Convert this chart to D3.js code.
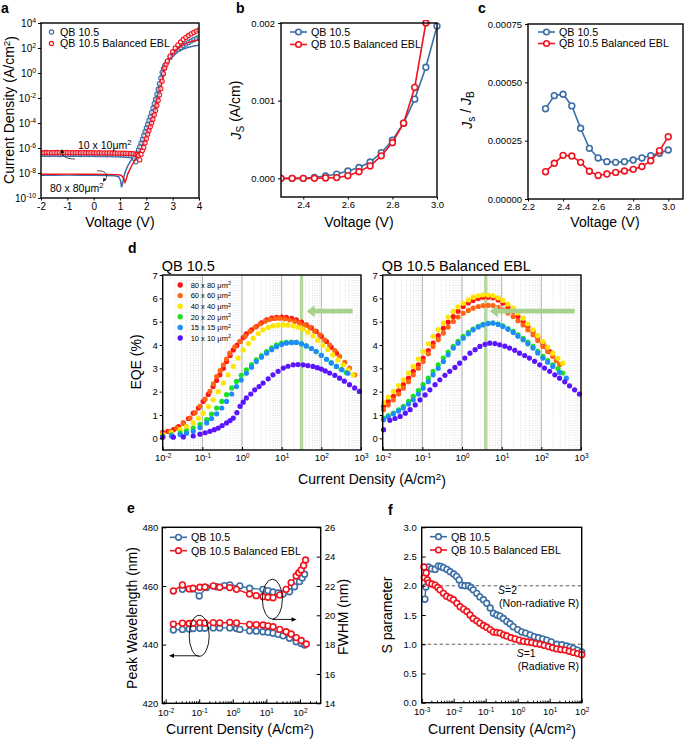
<!DOCTYPE html>
<html><head><meta charset="utf-8">
<script src="https://cdn.jsdelivr.net/npm/d3@7"></script>
<style>body{margin:0;background:#fff}svg{display:block}</style>
</head><body><svg id="c" width="685" height="740"></svg>
<script>
// ---------------- DATA ----------------
// Panel a: [voltage, log10 current density]
const aBlueMarkers = [[-2,-6.5],[-1.9,-6.51],[-1.8,-6.5],[-1.7,-6.52],[-1.6,-6.51],[-1.5,-6.5],[-1.4,-6.51],[-1.3,-6.52],[-1.2,-6.51],[-1.1,-6.5],[-1,-6.51],[-0.9,-6.52],[-0.8,-6.51],[-0.7,-6.5],[-0.6,-6.51],[-0.5,-6.52],[-0.4,-6.51],[-0.3,-6.51],[-0.2,-6.52],[-0.1,-6.51],[0,-6.52],[0.1,-6.53],[0.2,-6.52],[0.3,-6.53],[0.4,-6.53],[0.5,-6.54],[0.6,-6.53],[0.7,-6.54],[0.8,-6.55],[0.9,-6.55],[1,-6.56],[1.1,-6.57],[1.2,-6.58],[1.3,-6.6],[1.4,-6.63],[1.5,-6.7],[1.55,-6.85],[1.6,-7.1],[1.65,-6.5],[1.7,-6.15],[1.75,-5.9],[1.8,-5.6],[1.85,-5.3],[1.9,-5],[1.95,-4.7],[2,-4.4],[2.05,-4.1],[2.1,-3.8],[2.15,-3.5],[2.2,-3.15],[2.25,-2.8],[2.3,-2.45],[2.35,-2.1],[2.4,-1.7],[2.45,-1.3],[2.5,-0.85],[2.55,-0.4],[2.6,0.05],[2.65,0.35],[2.7,0.6],[2.8,0.95],[2.9,1.25],[3,1.5],[3.1,1.72],[3.2,1.9],[3.3,2.05],[3.4,2.2],[3.5,2.33],[3.6,2.45],[3.7,2.56],[3.8,2.66],[3.9,2.76],[4,2.85]];
const aRedMarkers = [[-2,-6.37],[-1.9,-6.38],[-1.8,-6.36],[-1.7,-6.37],[-1.6,-6.38],[-1.5,-6.37],[-1.4,-6.36],[-1.3,-6.37],[-1.2,-6.38],[-1.1,-6.37],[-1,-6.36],[-0.9,-6.37],[-0.8,-6.38],[-0.7,-6.37],[-0.6,-6.37],[-0.5,-6.38],[-0.4,-6.37],[-0.3,-6.38],[-0.2,-6.38],[-0.1,-6.37],[0,-6.38],[0.1,-6.39],[0.2,-6.38],[0.3,-6.39],[0.4,-6.39],[0.5,-6.4],[0.6,-6.39],[0.7,-6.4],[0.8,-6.4],[0.9,-6.41],[1,-6.41],[1.1,-6.42],[1.2,-6.42],[1.3,-6.43],[1.4,-6.44],[1.5,-6.45],[1.6,-6.48],[1.65,-6.52],[1.7,-6.6],[1.75,-6.95],[1.8,-6.5],[1.85,-6.2],[1.9,-5.95],[1.95,-5.6],[2,-5.25],[2.05,-4.9],[2.1,-4.6],[2.15,-4.3],[2.2,-4],[2.25,-3.7],[2.3,-3.35],[2.35,-3],[2.4,-2.6],[2.45,-2.2],[2.5,-1.75],[2.55,-1.25],[2.6,-0.65],[2.65,-0.05],[2.7,0.4],[2.75,0.7],[2.8,0.95],[2.9,1.35],[3,1.7],[3.1,2],[3.2,2.25],[3.3,2.48],[3.4,2.68],[3.5,2.85],[3.6,3],[3.7,3.13],[3.8,3.25],[3.9,3.35],[4,3.45]];
const aBlueLine = [[-2,-8.17],[-1.5,-8.18],[-1,-8.17],[-0.5,-8.18],[0,-8.19],[0.5,-8.2],[0.8,-8.22],[0.95,-8.3],[1.02,-8.6],[1.06,-9.15],[1.1,-8.8],[1.15,-8.3],[1.2,-7.9],[1.3,-7.4],[1.4,-7.05],[1.5,-6.75],[1.6,-6.45],[1.7,-6.1],[1.8,-5.55],[1.9,-4.95],[2,-4.35],[2.1,-3.75],[2.2,-3.1],[2.3,-2.4],[2.4,-1.65],[2.5,-0.8],[2.6,0.1],[2.7,0.55],[2.8,0.9],[3,1.35],[3.2,1.7],[3.4,1.92],[3.6,2.06],[3.8,2.16],[4,2.22]];
const aRedLine = [[-2,-8.09],[-1.5,-8.1],[-1,-8.09],[-0.5,-8.1],[0,-8.1],[0.5,-8.11],[0.9,-8.13],[1.05,-8.2],[1.12,-8.35],[1.19,-8.75],[1.25,-8.4],[1.3,-8.05],[1.4,-7.6],[1.5,-7.2],[1.6,-6.85],[1.7,-6.5],[1.8,-6.1],[1.9,-5.7],[2,-5.2],[2.1,-4.6],[2.2,-4],[2.3,-3.35],[2.4,-2.6],[2.5,-1.75],[2.6,-0.7],[2.7,0.3],[2.8,0.85],[3,1.5],[3.2,1.95],[3.4,2.25],[3.6,2.45],[3.8,2.58],[4,2.65]];
const aXTicks = [-2,-1,0,1,2,3,4];
const aYTicks = [1e-10,1e-8,1e-6,1e-4,1e-2,1,1e2,1e4];

// Panel b: surface current density vs voltage
const bVolt = [2.3,2.35,2.4,2.45,2.5,2.55,2.6,2.65,2.7,2.75,2.8,2.85,2.9,2.95,3.0];
const bBlue = [0,0,0,0.000013,0.00003,0.000055,0.000094,0.00014,0.00021,0.00033,0.00049,0.00071,0.00102,0.00143,0.00196];
const bRed  = [0,0,0,0,0.000005,0.00001,0.000034,0.000085,0.00016,0.00029,0.00046,0.00071,0.00117,0.002];
const bXTicks = [2.4,2.6,2.8,3.0];
const bYTicks = [0,0.001,0.002];

// Panel c: Js/JB vs voltage
const cVolt = [2.3,2.35,2.4,2.45,2.5,2.55,2.6,2.65,2.7,2.75,2.8,2.85,2.9,2.95,3.0];
const cBlue = [0.000387,0.000443,0.000449,0.000399,0.000303,0.000217,0.000176,0.00016,0.000157,0.00016,0.000167,0.000176,0.000186,0.000196,0.00021];
const cRed  = [0.000117,0.000153,0.000187,0.000184,0.000157,0.000119,0.000101,0.000107,0.000114,0.00012,0.000127,0.000139,0.000164,0.000207,0.000267];
const cXTicks = [2.2,2.4,2.6,2.8,3.0];
const cYTicks = [0,0.00025,0.0005,0.00075];

// Panel d: [log10 J, EQE %]
const dSizes = ['80 x 80','60 x 60','40 x 40','20 x 20','15 x 15','10 x 10'];
const dColors = ['#ff1414','#ff6414','#ffe600','#1ee01e','#1e8cff','#5a14ff'];
const dL80 = [[-2,0.26],[-1.87,0.3],[-1.73,0.37],[-1.6,0.5],[-1.48,0.66],[-1.35,0.85],[-1.23,1.08],[-1.1,1.3],[-0.98,1.58],[-0.85,1.88],[-0.73,2.22],[-0.64,2.48],[-0.56,2.72],[-0.47,3.0],[-0.39,3.29],[-0.3,3.55],[-0.22,3.79],[-0.13,3.98],[-0.05,4.15],[0.03,4.32],[0.11,4.48],[0.24,4.65],[0.36,4.79],[0.49,4.95],[0.62,5.08],[0.75,5.15],[0.87,5.19],[1.0,5.2],[1.12,5.19],[1.25,5.14],[1.37,5.08],[1.5,4.98],[1.62,4.86],[1.75,4.73],[1.87,4.58],[2.0,4.38],[2.13,4.15],[2.25,3.9],[2.38,3.65]];
const dL60 = [[-2,0.2],[-1.82,0.3],[-1.65,0.44],[-1.48,0.64],[-1.31,0.87],[-1.18,1.1],[-1.06,1.37],[-0.93,1.68],[-0.81,2.01],[-0.72,2.33],[-0.64,2.65],[-0.55,2.9],[-0.47,3.15],[-0.39,3.4],[-0.31,3.65],[-0.18,3.92],[-0.05,4.15],[0.08,4.38],[0.2,4.58],[0.33,4.76],[0.45,4.9],[0.58,5.02],[0.7,5.1],[0.83,5.14],[0.95,5.15],[1.08,5.12],[1.2,5.08],[1.33,5.01],[1.45,4.93],[1.58,4.85],[1.71,4.76],[1.83,4.6],[1.96,4.43],[2.08,4.22],[2.21,4.0],[2.34,3.76],[2.46,3.51],[2.59,3.26],[2.71,3.01],[2.84,2.72]];
const dL40 = [[-2,0.16],[-1.78,0.25],[-1.56,0.37],[-1.4,0.5],[-1.23,0.66],[-1.1,0.86],[-0.98,1.08],[-0.85,1.36],[-0.73,1.65],[-0.6,2.0],[-0.47,2.37],[-0.35,2.72],[-0.22,3.08],[-0.1,3.44],[0.03,3.79],[0.16,4.06],[0.28,4.29],[0.41,4.49],[0.53,4.65],[0.66,4.75],[0.78,4.82],[0.91,4.85],[1.04,4.86],[1.16,4.85],[1.29,4.82],[1.41,4.76],[1.54,4.68],[1.66,4.55],[1.79,4.39],[1.91,4.2],[2.04,4.0],[2.16,3.8],[2.29,3.58],[2.42,3.36],[2.55,3.15],[2.67,2.94],[2.8,2.72]];
const dL20 = [[-2,0.09],[-1.78,0.15],[-1.56,0.23],[-1.4,0.32],[-1.23,0.44],[-1.06,0.6],[-0.89,0.8],[-0.77,1.04],[-0.64,1.3],[-0.51,1.58],[-0.39,1.87],[-0.26,2.16],[-0.14,2.44],[-0.02,2.7],[0.11,2.94],[0.24,3.16],[0.36,3.36],[0.49,3.55],[0.62,3.72],[0.75,3.88],[0.87,4.01],[1.0,4.08],[1.12,4.11],[1.25,4.12],[1.37,4.11],[1.5,4.05],[1.62,3.96],[1.75,3.85],[1.87,3.72],[2.0,3.56],[2.13,3.39],[2.25,3.23],[2.38,3.08],[2.5,2.95],[2.63,2.82]];
const dL15 = [[-2,0.06],[-1.78,0.1],[-1.56,0.16],[-1.4,0.22],[-1.23,0.3],[-1.06,0.46],[-0.89,0.66],[-0.77,0.85],[-0.64,1.05],[-0.51,1.3],[-0.39,1.58],[-0.26,1.9],[-0.14,2.22],[-0.02,2.5],[0.11,2.79],[0.24,3.05],[0.36,3.29],[0.49,3.48],[0.62,3.65],[0.75,3.8],[0.87,3.93],[1.0,4.02],[1.12,4.08],[1.25,4.1],[1.37,4.11],[1.5,4.05],[1.62,3.96],[1.75,3.85],[1.87,3.72],[2.0,3.56],[2.13,3.39],[2.25,3.23],[2.38,3.08],[2.52,2.94],[2.67,2.79]];
const dL10 = [[-2,0.05],[-1.73,0.05],[-1.48,0.06],[-1.23,0.1],[-1.06,0.18],[-0.93,0.24],[-0.81,0.3],[-0.7,0.37],[-0.6,0.44],[-0.5,0.55],[-0.39,0.66],[-0.3,0.76],[-0.22,0.87],[-0.13,1.1],[-0.05,1.37],[0.03,1.55],[0.11,1.73],[0.22,1.9],[0.32,2.08],[0.43,2.22],[0.53,2.37],[0.66,2.55],[0.78,2.72],[0.91,2.87],[1.04,3.01],[1.16,3.09],[1.29,3.15],[1.41,3.16],[1.54,3.15],[1.66,3.12],[1.79,3.08],[1.9,3.03],[2.0,2.97],[2.1,2.89],[2.21,2.8],[2.34,2.7],[2.46,2.58],[2.58,2.45],[2.71,2.3],[2.84,2.16],[2.96,2.01]];
const dR80 = [[-1.98,1.37],[-1.86,1.58],[-1.73,1.8],[-1.6,2.04],[-1.48,2.3],[-1.35,2.58],[-1.23,2.87],[-1.1,3.15],[-0.98,3.44],[-0.85,3.76],[-0.73,4.08],[-0.6,4.4],[-0.47,4.72],[-0.35,4.98],[-0.22,5.22],[-0.1,5.45],[0.03,5.65],[0.16,5.8],[0.28,5.91],[0.41,5.99],[0.53,6.05],[0.66,6.05],[0.78,6.03],[0.91,5.93],[1.03,5.79],[1.16,5.62],[1.29,5.44],[1.41,5.22],[1.54,5.0],[1.66,4.79],[1.79,4.58],[1.91,4.33],[2.04,4.08],[2.13,3.9],[2.21,3.72]];
const dR60 = [[-1.98,1.23],[-1.86,1.43],[-1.73,1.65],[-1.6,1.9],[-1.48,2.15],[-1.35,2.43],[-1.23,2.72],[-1.1,3.0],[-0.98,3.29],[-0.85,3.62],[-0.73,3.94],[-0.6,4.23],[-0.47,4.51],[-0.35,4.77],[-0.22,5.01],[-0.1,5.2],[0.03,5.36],[0.16,5.48],[0.28,5.58],[0.41,5.65],[0.53,5.69],[0.66,5.7],[0.78,5.69],[0.91,5.61],[1.03,5.51],[1.16,5.37],[1.29,5.22],[1.41,5.04],[1.54,4.86],[1.66,4.65],[1.79,4.44],[1.91,4.19],[2.04,3.94],[2.16,3.72],[2.29,3.51],[2.38,3.33],[2.46,3.15]];
const dR40 = [[-1.98,1.54],[-1.86,1.77],[-1.73,2.01],[-1.6,2.26],[-1.48,2.51],[-1.35,2.8],[-1.23,3.08],[-1.1,3.4],[-0.98,3.72],[-0.85,4.05],[-0.73,4.37],[-0.6,4.66],[-0.47,4.94],[-0.35,5.2],[-0.22,5.44],[-0.1,5.63],[0.03,5.79],[0.16,5.93],[0.28,6.05],[0.41,6.11],[0.53,6.15],[0.66,6.14],[0.78,6.11],[0.91,6.02],[1.03,5.91],[1.16,5.75],[1.29,5.58],[1.41,5.37],[1.54,5.15],[1.66,4.9],[1.79,4.65],[1.91,4.4],[2.04,4.15],[2.16,3.9],[2.29,3.65],[2.42,3.43],[2.54,3.22]];
const dR20 = [[-1.98,0.87],[-1.86,0.97],[-1.73,1.08],[-1.6,1.22],[-1.48,1.37],[-1.35,1.58],[-1.23,1.8],[-1.1,2.05],[-0.98,2.3],[-0.85,2.58],[-0.73,2.87],[-0.6,3.15],[-0.47,3.44],[-0.35,3.7],[-0.22,3.94],[-0.1,4.16],[0.03,4.37],[0.16,4.54],[0.28,4.68],[0.41,4.8],[0.53,4.89],[0.66,4.93],[0.78,4.94],[0.91,4.9],[1.03,4.82],[1.16,4.7],[1.29,4.58],[1.41,4.44],[1.54,4.29],[1.66,4.12],[1.79,3.94],[1.91,3.73],[2.04,3.51],[2.16,3.33],[2.29,3.15],[2.42,2.98],[2.54,2.8]];
const dR15 = [[-1.98,0.8],[-1.86,0.92],[-1.73,1.05],[-1.6,1.17],[-1.48,1.3],[-1.35,1.47],[-1.23,1.65],[-1.1,1.9],[-0.98,2.15],[-0.85,2.43],[-0.73,2.72],[-0.6,3.0],[-0.47,3.29],[-0.35,3.58],[-0.22,3.87],[-0.1,4.08],[0.03,4.29],[0.16,4.48],[0.28,4.65],[0.41,4.77],[0.53,4.86],[0.66,4.92],[0.78,4.94],[0.91,4.88],[1.03,4.79],[1.16,4.67],[1.29,4.54],[1.41,4.38],[1.54,4.22],[1.66,4.05],[1.79,3.87],[1.91,3.66],[2.04,3.44],[2.16,3.26],[2.29,3.08],[2.46,2.83],[2.63,2.58]];
const dR10 = [[-1.98,0.37],[-1.82,0.77],[-1.69,0.85],[-1.56,0.94],[-1.43,1.08],[-1.31,1.23],[-1.18,1.43],[-1.06,1.65],[-0.93,1.86],[-0.81,2.08],[-0.68,2.3],[-0.56,2.51],[-0.43,2.7],[-0.31,2.87],[-0.18,3.04],[-0.06,3.22],[0.07,3.44],[0.2,3.65],[0.33,3.8],[0.45,3.94],[0.58,4.03],[0.7,4.08],[0.83,4.06],[0.95,4.01],[1.08,3.95],[1.2,3.87],[1.33,3.77],[1.45,3.65],[1.58,3.55],[1.7,3.44],[1.83,3.3],[1.96,3.15],[2.08,3.01],[2.21,2.87],[2.34,2.72],[2.46,2.58],[2.59,2.42],[2.71,2.25],[2.84,2.08],[2.96,1.9]];
const dLeftPeakLogJ = 1.5;   // highlighted current density, left panel
const dRightPeakLogJ = 0.6;  // highlighted current density, right panel
const dYTicks = [0,1,2,3,4,5,6,7];
const dXTicks = [1e-2,1e-1,1,1e1,1e2,1e3];

// Panel e: [log10 J, value]
const eBluePeak = [[-1.77,445.0],[-1.5,445.2],[-1.3,445.3],[-1.18,445.5],[-0.98,445.6],[-0.83,445.6],[-0.58,445.7],[-0.39,445.7],[-0.09,445.7],[0.11,445.5],[0.21,445.2],[0.5,444.7],[0.7,444.6],[0.9,444.4],[1.05,444.2],[1.2,443.9],[1.35,443.5],[1.5,443.0],[1.69,442.2],[1.89,441.0],[2.04,440.4],[2.14,439.9]];
const eRedPeak = [[-1.77,447.0],[-1.5,447.3],[-1.3,447.2],[-1.18,447.3],[-0.98,447.5],[-0.83,447.4],[-0.58,447.5],[-0.39,447.4],[-0.09,447.6],[0.11,447.4],[0.5,446.9],[0.7,446.8],[0.9,446.7],[1.05,446.4],[1.2,446.1],[1.4,445.2],[1.59,444.4],[1.74,443.6],[1.89,442.4],[2.04,441.4],[2.19,440.2]];
const eBlueFWHM = [[-1.5,21.77],[-1.2,21.8],[-1.0,21.32],[-0.78,21.89],[-0.49,21.95],[-0.25,22.02],[-0.09,22.07],[0.21,22.0],[0.5,21.84],[0.9,21.77],[1.05,21.68],[1.2,21.59],[1.35,21.52],[1.5,21.45],[1.69,21.61],[1.84,21.95],[1.99,22.3],[2.07,22.55],[2.14,22.8]];
const eRedFWHM = [[-1.77,21.66],[-1.5,22.07],[-1.3,21.8],[-1.18,21.84],[-0.98,21.91],[-0.83,21.93],[-0.58,22.0],[-0.39,21.91],[-0.09,21.89],[0.11,21.77],[0.5,21.45],[0.7,21.34],[0.9,21.27],[1.05,21.23],[1.2,21.2],[1.4,21.39],[1.59,21.77],[1.74,22.23],[1.89,22.68],[1.97,22.9],[2.04,23.09],[2.11,23.4],[2.17,23.77]];
const eYLTicks = [420,440,460,480];
const eYRTicks = [14,16,18,20,22,24,26];
const eXTicks = [1e-2,1e-1,1,1e1,1e2];

// Panel f: [log10 J, S parameter]
const fBlue = [[-2.9,1.77],[-2.87,1.98],[-2.79,2.32],[-2.69,2.29],[-2.58,2.28],[-2.48,2.34],[-2.4,2.33],[-2.32,2.31],[-2.21,2.28],[-2.11,2.24],[-2.0,2.2],[-1.91,2.16],[-1.83,2.1],[-1.75,2.01],[-1.65,2.0],[-1.54,2.0],[-1.46,1.97],[-1.39,1.93],[-1.28,1.87],[-1.18,1.81],[-1.07,1.76],[-0.97,1.7],[-0.86,1.62],[-0.76,1.53],[-0.65,1.5],[-0.55,1.48],[-0.45,1.44],[-0.34,1.39],[-0.24,1.35],[-0.14,1.3],[0.0,1.25],[0.125,1.21],[0.25,1.19],[0.39,1.16],[0.52,1.13],[0.65,1.11],[0.78,1.09],[0.91,1.07],[1.05,1.04],[1.22,1.0],[1.38,0.99],[1.53,0.97],[1.64,0.95],[1.74,0.93],[1.87,0.9],[2.0,0.87]];
const fRed = [[-2.93,2.32],[-2.92,2.14],[-2.86,2.22],[-2.82,2.1],[-2.78,2.05],[-2.68,2.03],[-2.58,2.01],[-2.5,1.97],[-2.43,1.93],[-2.32,1.87],[-2.22,1.82],[-2.11,1.79],[-2.01,1.76],[-1.9,1.7],[-1.8,1.64],[-1.69,1.6],[-1.59,1.56],[-1.49,1.5],[-1.39,1.44],[-1.28,1.4],[-1.18,1.36],[-1.07,1.32],[-0.97,1.29],[-0.86,1.25],[-0.76,1.21],[-0.65,1.2],[-0.55,1.19],[-0.44,1.16],[-0.34,1.14],[-0.21,1.11],[-0.08,1.09],[0.05,1.07],[0.18,1.05],[0.31,1.04],[0.44,1.03],[0.57,1.01],[0.7,1.0],[0.83,0.98],[0.96,0.96],[1.09,0.94],[1.22,0.92],[1.35,0.91],[1.48,0.9],[1.61,0.88],[1.74,0.86],[1.87,0.84],[2.0,0.82]];
const fYTicks = [0,0.5,1,1.5,2,2.5,3];
const fXTicks = [1e-3,1e-2,1e-1,1,1e1,1e2];
const fRefLines = [2,1];

// ---------------- DRAWING ----------------
const FONT = '"Liberation Sans", Arial, Helvetica, sans-serif';
const BLUE = '#3c6ea6';
const RED = '#f0141e';
const svg = d3.select('#c').attr('font-family', FONT);
svg.append('rect').attr('width',685).attr('height',740).attr('fill','#fff');

function frame(x0,y0,x1,y1){
  svg.append('rect').attr('x',x0).attr('y',y0).attr('width',x1-x0).attr('height',y1-y0)
    .attr('fill','none').attr('stroke','#000').attr('stroke-width',1.4);
}
function styleAxis(g, fs){
  g.select('.domain').remove();
  g.selectAll('.tick line').attr('stroke','#000').attr('stroke-width',1);
  g.selectAll('.tick text').attr('font-size',fs).attr('font-family',FONT).attr('fill','#000');
  return g;
}
function supLabels(g){
  g.selectAll('.tick text').each(function(d){
    const e = Math.round(Math.log10(d));
    const t = d3.select(this); t.text(null);
    t.append('tspan').text('10');
    t.append('tspan').attr('dy','-0.5em').attr('font-size','0.68em').text(e<0?'-'+Math.abs(e):String(e));
  });
}
function letter(txt,x,y){ svg.append('text').attr('x',x).attr('y',y).attr('font-size',14).attr('font-weight','bold').text(txt); }
function xTitle(x,y,fn){ const t=svg.append('text').attr('x',x).attr('y',y).attr('text-anchor','middle').attr('font-size',14); fn(t); }
function yTitle(x,y,fn){ const t=svg.append('text').attr('transform',`translate(${x},${y}) rotate(-90)`).attr('text-anchor','middle').attr('font-size',14); fn(t); }
function legendLC(x,y,color,label,withLine){
  if(withLine) svg.append('line').attr('x1',x).attr('x2',x+17).attr('y1',y).attr('y2',y).attr('stroke',color).attr('stroke-width',1.6);
  svg.append('circle').attr('cx',x+8.5).attr('cy',y).attr('r',withLine?2.8:2.1).attr('fill','#fff').attr('stroke',color).attr('stroke-width',withLine?1.6:1.2);
  svg.append('text').attr('x',x+(withLine?21:17)).attr('y',y+3.8).attr('font-size',10.7).text(label);
}
function arrowHead(x,y,angle,size,color){
  const a=angle*Math.PI/180, s=size;
  const p=[[x,y],[x-s*Math.cos(a)+s*0.45*Math.sin(a), y-s*Math.sin(a)-s*0.45*Math.cos(a)],[x-s*Math.cos(a)-s*0.45*Math.sin(a), y-s*Math.sin(a)+s*0.45*Math.cos(a)]];
  svg.append('path').attr('d','M'+p.map(q=>q.join(',')).join('L')+'Z').attr('fill',color);
}

// ---- Panel a ----
{
  const x = d3.scaleLinear().domain([-2,4]).range([41,199]);
  const y = d3.scaleLog().domain([1e-10,1e4]).range([198,23]);
  const line = d3.line().x(d=>x(d[0])).y(d=>y(10**d[1]));
  const clip = svg.append('clipPath').attr('id','clipA'); clip.append('rect').attr('x',41).attr('y',23).attr('width',158).attr('height',175);
  const g = svg.append('g').attr('clip-path','url(#clipA)');
  g.append('path').datum(aBlueLine).attr('d',line).attr('fill','none').attr('stroke',BLUE).attr('stroke-width',1.5);
  g.selectAll('.bm').data(aBlueMarkers).join('circle').attr('cx',d=>x(d[0])).attr('cy',d=>y(10**d[1])).attr('r',2.1).attr('fill','#fff').attr('fill-opacity',0.6).attr('stroke',BLUE).attr('stroke-width',1.1);
  g.append('path').datum(aRedLine).attr('d',line).attr('fill','none').attr('stroke',RED).attr('stroke-width',1.5);
  g.selectAll('.rm').data(aRedMarkers).join('circle').attr('cx',d=>x(d[0])).attr('cy',d=>y(10**d[1])).attr('r',2.1).attr('fill','#fff').attr('fill-opacity',0.6).attr('stroke',RED).attr('stroke-width',1.1);
  frame(41,23,199,198);
  styleAxis(svg.append('g').attr('transform','translate(0,198)').call(d3.axisBottom(x).tickValues(aXTicks).tickSize(2.5).tickPadding(2).tickFormat(d=>String(d))),10);
  const ya = styleAxis(svg.append('g').attr('transform','translate(41,0)').call(d3.axisLeft(y).tickValues(aYTicks).tickSize(3).tickPadding(2)),10);
  supLabels(ya);
  legendLC(43,32,BLUE,'QB 10.5',false);
  legendLC(43,43.5,RED,'QB 10.5 Balanced EBL',false);
  const t1 = svg.append('text').attr('x',78).attr('y',149).attr('font-size',10.5).text('10 x 10μm');
  t1.append('tspan').attr('dy','-0.45em').attr('font-size','0.75em').text('2');
  const t2 = svg.append('text').attr('x',50).attr('y',192).attr('font-size',10.5).text('80 x 80μm');
  t2.append('tspan').attr('dy','-0.45em').attr('font-size','0.75em').text('2');
  svg.append('path').attr('d','M75,159 C66,159 61,156 62,150').attr('fill','none').attr('stroke','#000').attr('stroke-width',0.7);
  arrowHead(62,149,-95,4,'#000');
  svg.append('path').attr('d','M97,171 C105,170 110,175 104,181').attr('fill','none').attr('stroke','#000').attr('stroke-width',0.7);
  arrowHead(103,182,120,4,'#000');
  letter('a',1,13);
  yTitle(14,110,t=>{ t.text('Current Density (A/cm'); t.append('tspan').attr('dy','-0.45em').attr('font-size','0.7em').text('2'); t.append('tspan').attr('dy','0.45em').text(')'); });
  xTitle(120,227,t=>t.text('Voltage (V)'));
}

// ---- Panel b ----
{
  const x = d3.scaleLinear().domain([2.3,3.0]).range([281,437]);
  const y = d3.scaleLinear().domain([-0.00024,0.002]).range([197,23]);
  const clip = svg.append('clipPath').attr('id','clipB'); clip.append('rect').attr('x',281).attr('y',20).attr('width',160).attr('height',177);
  const g = svg.append('g').attr('clip-path','url(#clipB)');
  const series = [[bBlue,BLUE],[bRed,RED]];
  series.forEach(([vals,col])=>{
    const pts = vals.map((v,i)=>[bVolt[i],v]);
    g.append('path').datum(pts).attr('d',d3.line().x(d=>x(d[0])).y(d=>y(d[1]))).attr('fill','none').attr('stroke',col).attr('stroke-width',1.6);
    g.selectAll(null).data(pts).join('circle').attr('cx',d=>x(d[0])).attr('cy',d=>y(d[1])).attr('r',2.9).attr('fill','#fff').attr('stroke',col).attr('stroke-width',1.6);
  });
  frame(281,23,437,197);
  styleAxis(svg.append('g').attr('transform','translate(0,197)').call(d3.axisBottom(x).tickValues(bXTicks).tickSize(2.5).tickPadding(2).tickFormat(d3.format('.1f'))),9.5);
  styleAxis(svg.append('g').attr('transform','translate(281,0)').call(d3.axisLeft(y).tickValues(bYTicks).tickSize(3).tickPadding(3).tickFormat(d3.format('.3f'))),9.5);
  legendLC(290,32,BLUE,'QB 10.5',true);
  legendLC(290,44.5,RED,'QB 10.5 Balanced EBL',true);
  letter('b',236,13);
  yTitle(241,110,t=>{ t.append('tspan').attr('font-style','italic').text('J'); t.append('tspan').attr('dy','0.3em').attr('font-size','0.72em').text('S'); t.append('tspan').attr('dy','-0.3em').text(' (A/cm)'); });
  xTitle(359,227,t=>t.text('Voltage (V)'));
}

// ---- Panel c ----
{
  const x = d3.scaleLinear().domain([2.2,3.084]).range([528,683]);
  const y = d3.scaleLinear().domain([0,0.00075]).range([199,24]);
  const series = [[cBlue,BLUE],[cRed,RED]];
  series.forEach(([vals,col])=>{
    const pts = vals.map((v,i)=>[cVolt[i],v]);
    svg.append('path').datum(pts).attr('d',d3.line().x(d=>x(d[0])).y(d=>y(d[1]))).attr('fill','none').attr('stroke',col).attr('stroke-width',1.6);
    svg.selectAll(null).data(pts).join('circle').attr('cx',d=>x(d[0])).attr('cy',d=>y(d[1])).attr('r',2.9).attr('fill','#fff').attr('stroke',col).attr('stroke-width',1.6);
  });
  frame(528,24,683,199);
  styleAxis(svg.append('g').attr('transform','translate(0,199)').call(d3.axisBottom(x).tickValues(cXTicks).tickSize(2.5).tickPadding(1.5).tickFormat(d3.format('.1f'))),9.5);
  styleAxis(svg.append('g').attr('transform','translate(528,0)').call(d3.axisLeft(y).tickValues(cYTicks).tickSize(3).tickPadding(3).tickFormat(d3.format('.5f'))),9.5);
  legendLC(538,32,BLUE,'QB 10.5',true);
  legendLC(538,43.5,RED,'QB 10.5 Balanced EBL',true);
  letter('c',478,13);
  yTitle(472,110,t=>{ t.append('tspan').attr('font-style','italic').text('J'); t.append('tspan').attr('dy','0.3em').attr('font-size','0.72em').text('s'); t.append('tspan').attr('dy','-0.3em').text(' / '); t.append('tspan').attr('font-style','italic').text('J'); t.append('tspan').attr('dy','0.3em').attr('font-size','0.72em').text('B'); });
  xTitle(605,227,t=>t.text('Voltage (V)'));
}

// ---- Panel d ----
function eqePanel(id,x0,x1,title,seriesList,peakLogJ,arrowFrom,arrowTo,showLegend){
  const top=275,bottom=450;
  const x = d3.scaleLog().domain([1e-2,1e3]).range([x0,x1]);
  const y = d3.scaleLinear().domain([-0.5,7]).range([bottom,top]);
  const minors=[]; for(let e=-2;e<3;e++){ for(let m=2;m<10;m++) minors.push(m*10**e); }
  svg.append('g').selectAll('line').data(minors).join('line').attr('x1',d=>x(d)).attr('x2',d=>x(d)).attr('y1',top).attr('y2',bottom).attr('stroke','#c8c8c8').attr('stroke-width',0.6).attr('stroke-dasharray','1,1.5');
  svg.append('g').selectAll('line').data([1e-1,1,1e1,1e2]).join('line').attr('x1',d=>x(d)).attr('x2',d=>x(d)).attr('y1',top).attr('y2',bottom).attr('stroke','#9a9a9a').attr('stroke-width',0.8);
  svg.append('rect').attr('x',x(10**peakLogJ)-1.7).attr('y',top).attr('width',3.4).attr('height',bottom-top).attr('fill','#a9d18e').attr('opacity',0.85);
  const g = svg.append('g');
  seriesList.forEach((s,i)=>{
    g.append('g').selectAll('circle').data(s).join('circle').attr('cx',d=>x(10**d[0])).attr('cy',d=>y(d[1])).attr('r',2.6).attr('fill',dColors[i]);
  });
  const ay=y(5.45), xa=x(10**arrowFrom), xb=x(10**arrowTo);
  svg.append('path').attr('d',`M${xa},${ay-2.4}L${xb+8},${ay-2.4}L${xb+8},${ay-6}L${xb},${ay}L${xb+8},${ay+6}L${xb+8},${ay+2.4}L${xa},${ay+2.4}Z`).attr('fill','#a9d18e');
  frame(x0,top,x1,bottom);
  styleAxis(svg.append('g').attr('transform',`translate(${x0},0)`).call(d3.axisLeft(y).tickValues(dYTicks).tickSize(3).tickPadding(2).tickFormat(d3.format('d'))),9.5);
  const xa2 = styleAxis(svg.append('g').attr('transform',`translate(0,${bottom})`).call(d3.axisBottom(x).tickValues(dXTicks).tickSize(-3).tickPadding(4)),9.5);
  supLabels(xa2);
  svg.append('text').attr('x',x0-1).attr('y',top-4).attr('font-size',14.5).text(title);
  if(showLegend){
    dSizes.forEach((s,i)=>{
      svg.append('circle').attr('cx',x0+17.5).attr('cy',285+i*10.6).attr('r',2.7).attr('fill',dColors[i]);
      const t=svg.append('text').attr('x',x0+28).attr('y',285+i*10.6+2.7).attr('font-size',7.5).text(s+' μm');
      t.append('tspan').attr('dy','-0.45em').attr('font-size','0.7em').text('2');
    });
  }
}
eqePanel('L',162.7,361,'QB 10.5',[dL80,dL60,dL40,dL20,dL15,dL10],dLeftPeakLogJ,2.79,1.63,true);
eqePanel('R',382.7,581,'QB 10.5 Balanced EBL',[dR80,dR60,dR40,dR20,dR15,dR10],dRightPeakLogJ,2.84,0.7,false);
letter('d',128,253);
yTitle(141,362,t=>t.text('EQE (%)'));
xTitle(372,484,t=>{ t.text('Current Density (A/cm'); t.append('tspan').attr('dy','-0.45em').attr('font-size','0.7em').text('2'); t.append('tspan').attr('dy','0.45em').text(')'); });

// ---- Panel e ----
{
  const L=162.3,R=320.7,T=527.3,B=703.3;
  const x = d3.scaleLog().domain([10**-2.1,10**2.62]).range([L,R]);
  const yl = d3.scaleLinear().domain([420,480]).range([B,T]);
  const yr = d3.scaleLinear().domain([14,26]).range([B,T]);
  const drawS=(data,ys,col)=>{
    svg.append('path').datum(data).attr('d',d3.line().x(d=>x(10**d[0])).y(d=>ys(d[1]))).attr('fill','none').attr('stroke',col).attr('stroke-width',1.4);
    svg.append('g').selectAll('circle').data(data).join('circle').attr('cx',d=>x(10**d[0])).attr('cy',d=>ys(d[1])).attr('r',2.9).attr('fill','#fff').attr('stroke',col).attr('stroke-width',1.6);
  };
  drawS(eBlueFWHM,yr,BLUE); drawS(eRedFWHM,yr,RED);
  drawS(eBluePeak,yl,BLUE); drawS(eRedPeak,yl,RED);
  svg.append('ellipse').attr('cx',x(10**-1)).attr('cy',yl(443)).attr('rx',10).attr('ry',20.5).attr('fill','none').attr('stroke','#000').attr('stroke-width',0.9);
  svg.append('line').attr('x1',x(10**-1)).attr('x2',x(10**-1.83)).attr('y1',yl(436.2)).attr('y2',yl(436.2)).attr('stroke','#000').attr('stroke-width',0.9);
  arrowHead(x(10**-1.9),yl(436.2),180,5,'#000');
  svg.append('ellipse').attr('cx',x(10**1.18)).attr('cy',yl(455.5)).attr('rx',10).attr('ry',20).attr('fill','none').attr('stroke','#000').attr('stroke-width',0.9);
  svg.append('line').attr('x1',x(10**1.18)).attr('x2',x(10**1.82)).attr('y1',yl(448.6)).attr('y2',yl(448.6)).attr('stroke','#000').attr('stroke-width',0.9);
  arrowHead(x(10**1.9),yl(448.6),0,5,'#000');
  frame(L,T,R,B);
  const minors=[]; for(let e=-3;e<3;e++){ for(let m=2;m<10;m++){ const v=m*10**e; if(v>10**-2.1&&v<10**2.62) minors.push(v);} }
  svg.append('g').attr('transform',`translate(0,${B})`).call(d3.axisBottom(x).tickValues(minors).tickSize(-2).tickFormat('')).call(g=>styleAxis(g,9.5));
  const xa=styleAxis(svg.append('g').attr('transform',`translate(0,${B})`).call(d3.axisBottom(x).tickValues(eXTicks).tickSize(-4).tickPadding(6)),9.5);
  supLabels(xa);
  styleAxis(svg.append('g').attr('transform',`translate(${L},0)`).call(d3.axisLeft(yl).tickValues(eYLTicks).tickSize(-4).tickPadding(4).tickFormat(d3.format('d'))),9.5);
  styleAxis(svg.append('g').attr('transform',`translate(${R},0)`).call(d3.axisRight(yr).tickValues(eYRTicks).tickSize(-4).tickPadding(4).tickFormat(d3.format('d'))),9.5);
  legendLC(170,537.3,BLUE,'QB 10.5',true);
  legendLC(170,550.7,RED,'QB 10.5 Balanced EBL',true);
  letter('e',127,513);
  yTitle(137,618,t=>t.text('Peak Wavelength (nm)'));
  yTitle(348,617,t=>t.text('FWHM (nm)'));
  xTitle(240,734,t=>{ t.text('Current Density (A/cm'); t.append('tspan').attr('dy','-0.45em').attr('font-size','0.7em').text('2'); t.append('tspan').attr('dy','0.45em').text(')'); });
}

// ---- Panel f ----
{
  const L=421.7,R=581.7,T=527.3,B=702.7;
  const x = d3.scaleLog().domain([1e-3,1e2]).range([L,R]);
  const y = d3.scaleLinear().domain([0,3]).range([B,T]);
  svg.append('g').selectAll('line').data(fRefLines).join('line').attr('x1',L).attr('x2',R).attr('y1',d=>y(d)).attr('y2',d=>y(d)).attr('stroke','#333').attr('stroke-width',0.8).attr('stroke-dasharray','3.5,2.5');
  const drawS=(data,col)=>{
    svg.append('path').datum(data).attr('d',d3.line().x(d=>x(10**d[0])).y(d=>y(d[1]))).attr('fill','none').attr('stroke',col).attr('stroke-width',1.4);
    svg.append('g').selectAll('circle').data(data).join('circle').attr('cx',d=>x(10**d[0])).attr('cy',d=>y(d[1])).attr('r',2.9).attr('fill','#fff').attr('stroke',col).attr('stroke-width',1.6);
  };
  drawS(fBlue,BLUE); drawS(fRed,RED);
  frame(L,T,R,B);
  const minors=[]; for(let e=-3;e<2;e++){ for(let m=2;m<10;m++) minors.push(m*10**e); }
  svg.append('g').attr('transform',`translate(0,${B})`).call(d3.axisBottom(x).tickValues(minors).tickSize(-2).tickFormat('')).call(g=>styleAxis(g,9.5));
  const xa=styleAxis(svg.append('g').attr('transform',`translate(0,${B})`).call(d3.axisBottom(x).tickValues(fXTicks).tickSize(-4).tickPadding(6)),9.5);
  supLabels(xa);
  styleAxis(svg.append('g').attr('transform',`translate(${L},0)`).call(d3.axisLeft(y).tickValues(fYTicks).tickSize(-4).tickPadding(5).tickFormat(d3.format('.1f'))),9.5);
  legendLC(430,536.7,BLUE,'QB 10.5',true);
  legendLC(430,550,RED,'QB 10.5 Balanced EBL',true);
  const s2=svg.append('text').attr('x',498).attr('y',594).attr('font-size',10.5);
  s2.append('tspan').attr('font-style','italic').text('S'); s2.append('tspan').text('=2');
  svg.append('text').attr('x',579).attr('y',607).attr('text-anchor','end').attr('font-size',10.5).text('(Non-radiative R)');
  const s1=svg.append('text').attr('x',516.7).attr('y',657).attr('font-size',10.5);
  s1.append('tspan').attr('font-style','italic').text('S'); s1.append('tspan').text('=1');
  svg.append('text').attr('x',579).attr('y',670).attr('text-anchor','end').attr('font-size',10.5).text('(Radiative R)');
  letter('f',388,515);
  yTitle(392,615,t=>t.text('S parameter'));
  xTitle(502,734,t=>{ t.text('Current Density (A/cm'); t.append('tspan').attr('dy','-0.45em').attr('font-size','0.7em').text('2'); t.append('tspan').attr('dy','0.45em').text(')'); });
}
</script></body></html>
